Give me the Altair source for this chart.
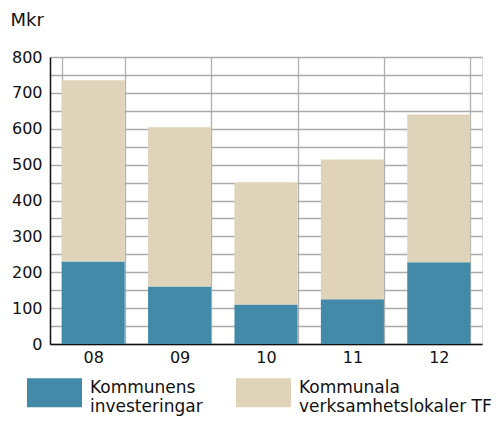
import altair as alt
import pandas as pd

years = ["08", "09", "10", "11", "12"]
investeringar = [230, 160, 110, 125, 228]
verksamhetslokaler = [505, 444, 340, 389, 412]
series = ["Kommunens investeringar", "Kommunala verksamhetslokaler TF"]
colors = ["#428aa8", "#dfd4b9"]
y_ticks = list(range(0, 801, 50))

rows = []
for i, yr in enumerate(years):
    rows.append({"year": yr, "serie": series[0], "value": investeringar[i], "ord": 0})
    rows.append({"year": yr, "serie": series[1], "value": verksamhetslokaler[i], "ord": 1})
df = pd.DataFrame(rows)

FONT = "DejaVu Sans"

chart = alt.Chart(df).mark_bar().encode(
    x=alt.X("year:N", sort=years, title=None,
            scale=alt.Scale(paddingInner=0.27, paddingOuter=0.135),
            axis=alt.Axis(tickBand="extent", grid=True, gridColor="#b0b0b0", gridWidth=1.3,
                          ticks=False, labelAngle=0, labelFontSize=16, labelPadding=5,
                          labelColor="#111", domainColor="#111", domainWidth=1.5,
                          labelFont=FONT)),
    y=alt.Y("value:Q", stack="zero", title="Mkr",
            scale=alt.Scale(domain=[0, 800], nice=False),
            axis=alt.Axis(values=y_ticks,
                          labelExpr="datum.value % 100 == 0 ? datum.label : ''",
                          grid=True, gridColor="#aaaaaa", gridWidth=1.3, ticks=False,
                          labelFontSize=16, labelPadding=8, labelColor="#111",
                          labelFont=FONT, domainColor="#111", domainWidth=1.5,
                          titleAngle=0, titleAlign="left", titleBaseline="middle",
                          titleX=-40, titleY=-37, titleFontSize=18, titleFontWeight="normal",
                          titleFont=FONT, titleColor="#111")),
    color=alt.Color("serie:N", sort=series,
                    scale=alt.Scale(domain=series, range=colors),
                    legend=alt.Legend(title=None, orient="none", legendX=-23, legendY=308,
                                      direction="horizontal", columns=2, columnPadding=33,
                                      symbolType="M-1,-0.527H1V0.527H-1Z", symbolSize=3025,
                                      symbolStrokeWidth=0, symbolOpacity=1,
                                      labelFontSize=17, labelFont=FONT, labelColor="#111",
                                      labelOffset=8, labelLimit=300, labelBaseline="alphabetic",
                                      labelExpr="[slice(datum.label, 0, indexof(datum.label, ' ')), slice(datum.label, indexof(datum.label, ' ') + 1)]")),
    order=alt.Order("ord:Q"),
).properties(
    width=432, height=287,
    padding={"left": 42, "top": 49, "right": 10, "bottom": 76},
    autosize=alt.AutoSizeParams(type="none"),
).configure_view(stroke=None).configure(background="white")

chart.save("out.html", embed_options={"renderer": "svg", "actions": False})
